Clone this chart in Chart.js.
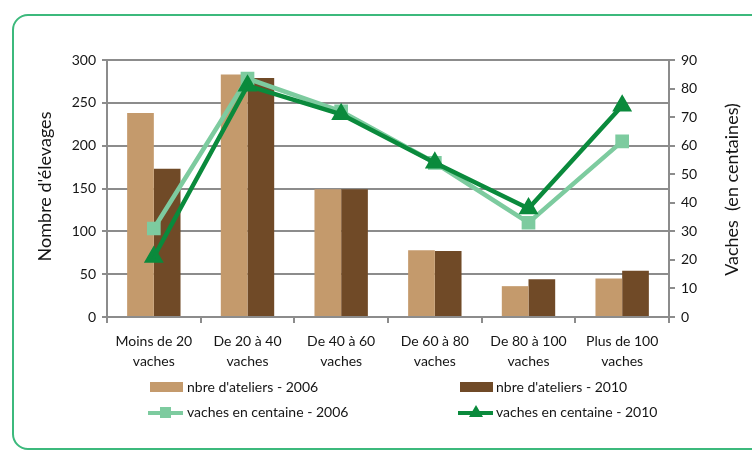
<!DOCTYPE html>
<html>
<head>
<meta charset="utf-8">
<script src="https://cdn.jsdelivr.net/npm/chart.js@4"></script>
<style>
  body { margin: 0; background: #fff; overflow: hidden; }
  #wrap { position: relative; width: 752px; height: 453px; }
  #frame { position: absolute; left: 12px; top: 14px; width: 770px; height: 436px;
    border: 2px solid #3cb97c; border-radius: 16px; box-sizing: border-box; }
  canvas { position: absolute; left: 0; top: 0; }
  .leg { position: absolute; font: 14px Lato, sans-serif; color: #151515; white-space: nowrap; }
  .box { position: absolute; width: 33px; height: 10px; }
  .ln { position: absolute; width: 35px; height: 4px; }
  .sq { position: absolute; width: 11px; height: 11px; }
  .tri { position: absolute; width: 0; height: 0; border-left: 7px solid transparent; border-right: 7px solid transparent; border-bottom: 12px solid #0a8a3c; }
</style>
</head>
<body>
<div id="wrap">
  <div id="frame"></div>
  <canvas id="mycanvas" width="752" height="453"></canvas>

  <div class="box" style="left:150px;top:382px;background:#c49a6c"></div>
  <div class="leg" style="left:187px;top:378px">nbre d'ateliers - 2006</div>
  <div class="box" style="left:460px;top:382px;background:#704a27"></div>
  <div class="leg" style="left:496px;top:378px">nbre d'ateliers - 2010</div>

  <div class="ln" style="left:148px;top:411px;background:#7dcb9f"></div>
  <div class="sq" style="left:160px;top:407px;background:#7dcb9f"></div>
  <div class="leg" style="left:187px;top:403px">vaches en centaine - 2006</div>
  <div class="ln" style="left:458px;top:411px;background:#0a8a3c"></div>
  <div class="tri" style="left:469px;top:405px"></div>
  <div class="leg" style="left:496px;top:403px">vaches en centaine - 2010</div>
</div>
<script>
var categories = [["Moins de 20", "vaches"], ["De 20 à 40", "vaches"], ["De 40 à 60", "vaches"],
                  ["De 60 à 80", "vaches"], ["De 80 à 100", "vaches"], ["Plus de 100", "vaches"]];
var ateliers2006 = [238, 283, 149, 78, 36, 45];
var ateliers2010 = [173, 279, 149, 77, 44, 54];
var vaches2006 = [31, 83.5, 72, 54, 33, 61.5];
var vaches2010 = [21, 81, 71, 54, 38, 74];
var leftTicks = { min: 0, max: 300, step: 50 };
var rightTicks = { min: 0, max: 90, step: 10 };

var gridColor = '#8c8c8c';
var textColor = '#151515';

// axis titles drawn by hand (both read bottom to top)
function drawTitle(ctx, text, x, y) {
  ctx.save();
  ctx.font = '18px Lato, sans-serif';
  ctx.fillStyle = textColor;
  ctx.textAlign = 'center';
  ctx.textBaseline = 'middle';
  ctx.translate(x, y);
  ctx.rotate(-Math.PI / 2);
  ctx.fillText(text, 0, 0);
  ctx.restore();
}

var axisTitles = {
  id: 'axisTitles',
  afterDraw: function(chart) {
    var a = chart.chartArea;
    var cy = (a.top + a.bottom) / 2;
    drawTitle(chart.ctx, "Nombre d'élevages", 45, cy - 2);
    drawTitle(chart.ctx, "Vaches  (en centaines)", 732, cy + 1);
  }
};

var chartdata = {
  labels: categories,
  datasets: [
    {
      type: 'line', label: 'vaches en centaine - 2010', data: vaches2010, yAxisID: 'y1', order: 0,
      borderColor: '#0a8a3c', backgroundColor: '#0a8a3c', borderWidth: 4.5,
      pointStyle: 'triangle', pointRadius: 7, pointHoverRadius: 7
    },
    {
      type: 'line', label: 'vaches en centaine - 2006', data: vaches2006, yAxisID: 'y1', order: 1,
      borderColor: '#7dcb9f', backgroundColor: '#7dcb9f', borderWidth: 4.5,
      pointStyle: 'rect', pointRadius: 6.5, pointHoverRadius: 6.5
    },
    {
      label: "nbre d'ateliers - 2006", data: ateliers2006, yAxisID: 'y', order: 2,
      backgroundColor: '#c49a6c', categoryPercentage: 0.57, barPercentage: 1.0
    },
    {
      label: "nbre d'ateliers - 2010", data: ateliers2010, yAxisID: 'y', order: 3,
      backgroundColor: '#704a27', categoryPercentage: 0.57, barPercentage: 1.0
    }
  ]
};

var ctx = document.getElementById('mycanvas');
var barGraph = new Chart(ctx, {
  type: 'bar',
  data: chartdata,
  plugins: [axisTitles],
  options: {
    responsive: false,
    animation: false,
    layout: { padding: { top: 60, left: 0, right: 0, bottom: 0 } },
    plugins: { legend: { display: false }, tooltip: { enabled: false } },
    scales: {
      x: {
        grid: { display: true, drawOnChartArea: false, offset: true, color: gridColor, lineWidth: 2, tickLength: 6 },
        border: { color: gridColor, width: 2 },
        ticks: { color: textColor, font: { family: 'Lato', size: 14, lineHeight: 1.45 }, maxRotation: 0, padding: 8 },
        afterFit: function(s) { s.height = 136; }
      },
      y: {
        position: 'left',
        min: leftTicks.min, max: leftTicks.max,
        grid: { color: gridColor, lineWidth: 2, tickLength: 5 },
        border: { color: gridColor, width: 2 },
        ticks: { stepSize: leftTicks.step, color: textColor, font: { family: 'Lato', size: 14 }, padding: 6 },
        afterFit: function(s) { s.width = 107; }
      },
      y1: {
        position: 'right',
        min: rightTicks.min, max: rightTicks.max,
        grid: { drawOnChartArea: false, color: gridColor, lineWidth: 2, tickLength: 6 },
        border: { color: gridColor, width: 2 },
        ticks: { stepSize: rightTicks.step, color: textColor, font: { family: 'Lato', size: 14 }, padding: 6 },
        afterFit: function(s) { s.width = 83; }
      }
    }
  }
});
</script>
</body>
</html>
